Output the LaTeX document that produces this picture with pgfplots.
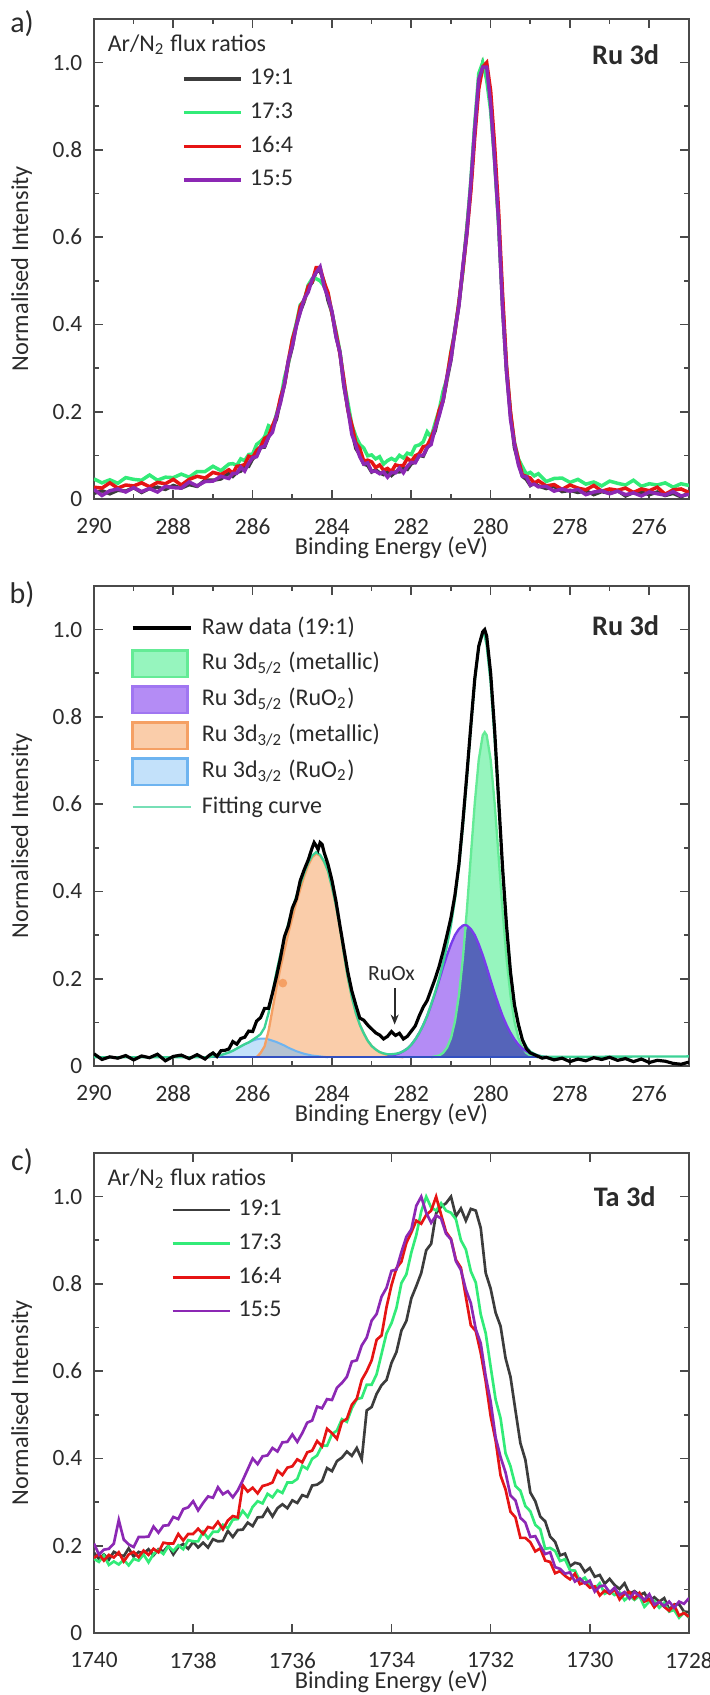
\documentclass[border=0pt]{standalone}
\usepackage{fontspec}
\setmainfont{Carlito}
\usepackage{pgfplots}
\usepackage{pgfplotstable}
\pgfplotsset{compat=1.18}
\usetikzlibrary{arrows.meta}

\definecolor{txt}{HTML}{2B2B2B}
\definecolor{axc}{HTML}{4A4A4A}
\definecolor{cK}{HTML}{3C3C3C}
\definecolor{cG}{HTML}{32EB78}
\definecolor{cR}{HTML}{E61414}
\definecolor{cP}{HTML}{8C28B4}
\definecolor{fitc}{HTML}{3CD296}
\definecolor{gF}{HTML}{96F5BE}
\definecolor{gE}{HTML}{64EB96}
\definecolor{pF}{HTML}{B48CF5}
\definecolor{pE}{HTML}{783CEB}
\definecolor{dF}{HTML}{5564B9}
\definecolor{dE}{HTML}{3C28C8}
\definecolor{oF}{HTML}{FACDAA}
\definecolor{oE}{HTML}{F5A064}
\definecolor{bF}{HTML}{C3E1FA}
\definecolor{bE}{HTML}{6EB4F0}
\definecolor{obF}{HTML}{B4C3D2}
\definecolor{baseE}{HTML}{3250C0}

% panel a: Ru 3d, four flux ratios
\pgfplotstableread{
x k g r p
290.0 .013 .046 .027 .022
289.8 .019 .037 .025 .008
289.6 .012 .044 .037 .019
289.4 .020 .036 .025 .023
289.2 .018 .049 .032 .016
289.0 .026 .045 .030 .026
288.8 .015 .043 .037 .017
288.6 .024 .055 .028 .024
288.4 .027 .043 .038 .016
288.2 .022 .050 .035 .029
288.0 .031 .049 .045 .026
287.8 .025 .057 .032 .025
287.6 .033 .050 .045 .039
287.4 .029 .063 .052 .030
287.2 .043 .063 .048 .040
287.0 .043 .075 .061 .041
286.8 .046 .065 .056 .052
286.6 .059 .080 .067 .047
286.5 .052 .081 .059 .059
286.4 .061 .077 .075 .059
286.3 .064 .092 .076 .073
286.2 .075 .088 .079 .064
286.1 .075 .102 .098 .082
286.0 .092 .103 .095 .095
285.9 .099 .125 .111 .097
285.8 .118 .132 .120 .118
285.7 .119 .142 .139 .121
285.6 .142 .168 .144 .142
285.5 .164 .163 .168 .153
285.4 .183 .194 .189 .190
285.3 .225 .226 .232 .220
285.2 .262 .277 .262 .262
285.1 .312 .312 .317 .318
285.0 .349 .366 .365 .350
284.9 .399 .402 .397 .396
284.8 .430 .445 .441 .428
284.7 .453 .455 .456 .459
284.6 .486 .490 .487 .474
284.5 .496 .505 .498 .503
284.4 .521 .505 .530 .519
284.3 .523 .500 .530 .532
284.2 .498 .488 .497 .487
284.1 .455 .470 .473 .462
284.0 .427 .425 .425 .430
283.9 .374 .385 .381 .372
283.8 .336 .338 .333 .336
283.7 .259 .270 .274 .261
283.6 .207 .221 .204 .207
283.5 .159 .170 .170 .148
283.4 .116 .144 .129 .123
283.3 .102 .125 .116 .097
283.2 .080 .117 .087 .080
283.1 .077 .099 .089 .083
283.0 .062 .101 .085 .063
282.9 .067 .092 .072 .064
282.8 .060 .097 .078 .058
282.7 .056 .080 .066 .062
282.6 .062 .088 .070 .050
282.5 .054 .093 .063 .061
282.4 .062 .088 .078 .060
282.3 .062 .100 .076 .071
282.2 .071 .094 .077 .060
282.1 .068 .105 .093 .075
282.0 .081 .102 .086 .084
281.9 .085 .121 .099 .083
281.8 .100 .124 .104 .100
281.7 .098 .131 .120 .100
281.6 .118 .154 .122 .118
281.5 .136 .142 .141 .125
281.4 .156 .174 .163 .163
281.3 .195 .203 .203 .190
281.2 .225 .247 .226 .225
281.1 .274 .276 .280 .280
281.0 .319 .338 .336 .320
280.9 .389 .384 .382 .386
280.8 .445 .452 .451 .443
280.7 .528 .522 .526 .534
280.6 .621 .617 .607 .609
280.5 .716 .730 .705 .723
280.4 .851 .860 .830 .849
280.3 .953 .975 .940 .962
280.2 .998 1.000 .990 .990
280.1 .975 .960 1.000 .990
280.0 .905 .890 .935 .905
279.9 .782 .775 .810 .777
279.8 .636 .630 .660 .636
279.7 .439 .455 .470 .441
279.6 .292 .300 .305 .292
279.5 .194 .195 .200 .183
279.4 .118 .130 .128 .125
279.3 .083 .092 .090 .078
279.2 .052 .074 .055 .052
279.1 .045 .057 .052 .051
279.0 .031 .061 .048 .032
278.9 .037 .053 .036 .034
278.8 .030 .058 .042 .028
278.6 .024 .040 .030 .029
278.4 .029 .047 .033 .018
278.2 .017 .048 .022 .023
278.0 .020 .038 .032 .018
277.8 .015 .045 .025 .022
277.6 .019 .034 .021 .010
277.4 .010 .039 .031 .016
277.2 .017 .030 .018 .019
277.0 .013 .041 .023 .012
276.8 .019 .036 .020 .018
276.6 .007 .032 .025 .010
276.4 .015 .043 .015 .014
276.2 .016 .029 .023 .007
276.0 .010 .035 .019 .016
275.8 .016 .032 .027 .012
275.6 .008 .037 .011 .009
275.4 .013 .027 .021 .017
275.2 .005 .035 .023 .007
275.0 .014 .031 .015 .011
}\tabA

% panel b: raw data 19:1 and fitted components
\pgfplotstableread{
x y
290.0 .028
289.8 .015
289.6 .021
289.4 .018
289.2 .024
289.0 .014
288.8 .023
288.6 .019
288.4 .027
288.2 .012
288.0 .022
287.8 .025
287.6 .017
287.4 .026
287.2 .016
287.1 .024
287.0 .030
286.9 .022
286.8 .035
286.7 .036
286.6 .039
286.5 .056
286.4 .050
286.3 .063
286.2 .066
286.1 .080
286.0 .079
285.9 .103
285.8 .111
285.7 .132
285.6 .132
285.5 .167
285.4 .205
285.3 .247
285.2 .296
285.1 .321
285.0 .362
284.9 .383
284.8 .425
284.7 .450
284.6 .472
284.5 .500
284.45 .512
284.4 .505
284.35 .496
284.3 .512
284.25 .508
284.2 .490
284.1 .462
284.0 .425
283.9 .378
283.8 .322
283.7 .268
283.6 .215
283.5 .172
283.4 .140
283.3 .110
283.2 .105
283.1 .094
283.0 .085
282.9 .076
282.8 .071
282.7 .062
282.6 .068
282.5 .079
282.4 .070
282.3 .075
282.2 .062
282.1 .068
282.0 .080
281.9 .092
281.8 .115
281.7 .135
281.6 .150
281.5 .175
281.4 .200
281.3 .228
281.2 .262
281.1 .300
281.0 .340
280.9 .392
280.8 .462
280.7 .560
280.6 .668
280.5 .780
280.4 .888
280.3 .962
280.2 .995
280.15 1.000
280.1 .985
280.0 .900
279.9 .770
279.8 .612
279.7 .455
279.6 .322
279.5 .215
279.4 .140
279.3 .095
279.2 .060
279.1 .040
279.0 .030
278.9 .026
278.8 .022
278.7 .018
278.6 .020
278.4 .014
278.2 .018
278.0 .010
277.8 .016
277.6 .012
277.4 .019
277.2 .015
277.0 .020
276.8 .013
276.6 .017
276.4 .010
276.2 .016
276.0 .008
275.8 .013
275.6 .011
275.4 .006
275.2 .004
275.0 .009
}\tRaw

\pgfplotstableread{
x y
290.0 .020
287.2 .020
287.1 .020
287.0 .022
286.9 .023
286.8 .025
286.7 .028
286.6 .031
286.5 .035
286.4 .040
286.3 .045
286.2 .050
286.1 .054
286.0 .060
285.9 .066
285.8 .073
285.7 .088
285.6 .121
285.5 .168
285.4 .215
285.3 .256
285.2 .292
285.1 .327
285.0 .358
284.9 .389
284.8 .416
284.7 .443
284.6 .466
284.5 .482
284.4 .490
284.3 .484
284.2 .469
284.1 .447
284.0 .410
283.9 .368
283.8 .318
283.7 .258
283.6 .203
283.5 .158
283.4 .122
283.3 .095
283.2 .075
283.1 .058
283.0 .046
282.9 .038
282.8 .032
282.7 .029
282.6 .027
282.5 .027
282.4 .028
282.3 .030
282.2 .034
282.1 .040
282.0 .049
281.9 .061
281.8 .076
281.7 .094
281.6 .115
281.5 .141
281.4 .169
281.3 .200
281.2 .236
281.1 .276
281.0 .323
280.9 .382
280.8 .456
280.7 .549
280.6 .659
280.5 .775
280.4 .883
280.3 .961
280.2 .992
280.15 .985
280.1 .964
280.0 .878
279.9 .750
279.8 .601
279.7 .452
279.6 .321
279.5 .218
279.4 .143
279.3 .093
279.2 .062
279.1 .044
279.0 .033
278.9 .028
278.8 .024
278.7 .022
278.6 .021
275.0 .022
}\tFit

\pgfplotstableread{
x y
285.9 .020
285.8 .030
285.7 .045
285.6 .080
285.5 .130
285.4 .180
285.3 .225
285.2 .265
285.1 .305
285.0 .340
284.9 .375
284.8 .405
284.7 .435
284.6 .460
284.5 .478
284.4 .487
284.3 .482
284.2 .468
284.1 .447
284.0 .410
283.9 .368
283.8 .318
283.7 .258
283.6 .203
283.5 .158
283.4 .122
283.3 .095
283.2 .075
283.1 .058
283.0 .046
282.9 .038
282.8 .032
282.7 .028
282.6 .025
282.5 .023
282.4 .022
282.3 .021
282.2 .020
}\tOrange

\pgfplotstableread{
x y
287.1 .020
287.0 .022
286.9 .023
286.8 .025
286.7 .028
286.6 .031
286.5 .035
286.4 .040
286.3 .045
286.2 .050
286.1 .054
286.0 .058
285.9 .061
285.8 .063
285.7 .063
285.6 .061
285.5 .058
285.4 .055
285.3 .051
285.2 .047
285.1 .042
285.0 .038
284.9 .034
284.8 .031
284.7 .028
284.6 .026
284.5 .024
284.4 .023
284.3 .022
284.2 .021
284.1 .020
}\tBlue

\pgfplotstableread{
x y
285.9 .020
285.8 .030
285.7 .045
285.6 .061
285.5 .058
285.4 .055
285.3 .051
285.2 .047
285.1 .042
285.0 .038
284.9 .034
284.8 .031
284.7 .028
284.6 .026
284.5 .024
284.4 .023
284.3 .022
284.2 .021
284.1 .020
}\tOB

\pgfplotstableread{
x y
281.5 .020
281.4 .022
281.3 .024
281.2 .030
281.1 .042
281.0 .064
280.9 .102
280.8 .162
280.7 .247
280.6 .357
280.5 .481
280.4 .603
280.3 .702
280.2 .758
280.15 .765
280.1 .758
280.0 .702
279.9 .603
279.8 .481
279.7 .357
279.6 .247
279.5 .162
279.4 .102
279.3 .064
279.2 .042
279.1 .030
279.0 .024
278.9 .022
278.8 .020
}\tGreen

\pgfplotstableread{
x y
282.6 .022
282.5 .024
282.4 .026
282.3 .029
282.2 .034
282.1 .040
282.0 .049
281.9 .061
281.8 .076
281.7 .094
281.6 .115
281.5 .140
281.4 .167
281.3 .196
281.2 .226
281.1 .254
281.0 .279
280.9 .300
280.8 .314
280.7 .322
280.65 .323
280.6 .322
280.5 .314
280.4 .300
280.3 .279
280.2 .254
280.1 .226
280.0 .196
279.9 .167
279.8 .140
279.7 .115
279.6 .094
279.5 .076
279.4 .061
279.3 .049
279.2 .040
279.1 .034
279.0 .029
278.9 .026
278.8 .024
278.7 .022
278.6 .020
}\tPurple

\pgfplotstableread{
x y
281.5 .020
281.4 .022
281.3 .024
281.2 .030
281.1 .042
281.0 .064
280.9 .102
280.8 .162
280.7 .247
280.65 .290
280.6 .322
280.5 .314
280.4 .300
280.3 .279
280.2 .254
280.1 .226
280.0 .196
279.9 .167
279.8 .140
279.7 .115
279.6 .094
279.5 .076
279.4 .061
279.3 .049
279.2 .040
279.1 .030
279.0 .024
278.9 .022
278.8 .020
}\tGP

% panel c: Ta 3d, four flux ratios
\pgfplotstableread{
x k g r p
1740.0 .184 .170 .172 .205
1739.9 .170 .163 .181 .180
1739.8 .180 .178 .166 .191
1739.7 .168 .156 .179 .193
1739.6 .186 .164 .173 .205
1739.5 .180 .157 .185 .259
1739.4 .176 .168 .164 .214
1739.3 .194 .155 .180 .203
1739.2 .175 .170 .186 .197
1739.1 .186 .166 .174 .220
1739.0 .182 .180 .189 .220
1738.9 .192 .162 .179 .221
1738.8 .178 .181 .193 .244
1738.7 .192 .190 .185 .230
1738.6 .187 .181 .207 .246
1738.5 .200 .199 .205 .247
1738.4 .180 .188 .205 .266
1738.3 .197 .201 .227 .261
1738.2 .204 .192 .212 .284
1738.1 .193 .213 .227 .288
1738.0 .209 .210 .227 .302
1737.9 .196 .210 .239 .281
1737.8 .207 .232 .227 .298
1737.7 .196 .217 .243 .313
1737.6 .215 .232 .240 .310
1737.5 .210 .232 .255 .334
1737.4 .211 .248 .238 .318
1737.3 .234 .240 .258 .325
1737.2 .220 .260 .268 .311
1737.1 .236 .261 .265 .327
1737.0 .237 .280 .339 .350
1736.9 .253 .266 .324 .375
1736.8 .245 .289 .333 .400
1736.7 .265 .302 .320 .387
1736.6 .266 .297 .337 .405
1736.5 .285 .319 .340 .407
1736.4 .267 .311 .345 .424
1736.3 .286 .327 .372 .416
1736.2 .295 .321 .362 .437
1736.1 .286 .345 .379 .438
1736.0 .304 .345 .382 .455
1735.9 .298 .353 .398 .438
1735.8 .316 .383 .391 .458
1735.7 .312 .376 .414 .482
1735.6 .338 .399 .418 .487
1735.5 .340 .407 .440 .519
1735.4 .348 .430 .428 .515
1735.3 .378 .429 .468 .536
1735.2 .371 .456 .458 .534
1735.1 .394 .464 .445 .562
1735.0 .402 .490 .484 .573
1734.9 .416 .484 .491 .587
1734.8 .406 .515 .523 .622
1734.7 .424 .536 .537 .625
1734.6 .398 .539 .580 .659
1734.5 .510 .569 .600 .677
1734.4 .518 .569 .625 .716
1734.3 .548 .593 .672 .731
1734.2 .568 .640 .682 .771
1734.1 .580 .687 .747 .791
1734.0 .619 .710 .797 .830
1733.9 .644 .745 .836 .833
1733.8 .693 .802 .851 .873
1733.7 .715 .822 .894 .908
1733.6 .767 .872 .918 .925
1733.5 .795 .912 .945 .979
1733.4 .825 .966 .938 1.000
1733.3 .877 1.000 .958 .963
1733.2 .892 .975 .968 .940
1733.1 .962 .968 1.000 .957
1733.0 .977 .985 .959 .950
1732.9 .985 .968 .919 .915
1732.8 1.000 .963 .903 .902
1732.7 .955 .948 .855 .852
1732.6 .973 .900 .837 .832
1732.5 .945 .879 .770 .787
1732.4 .972 .829 .705 .756
1732.3 .968 .803 .692 .696
1732.2 .928 .730 .642 .664
1732.1 .825 .687 .577 .588
1732.0 .789 .610 .497 .530
1731.9 .734 .535 .441 .448
1731.8 .703 .492 .361 .403
1731.7 .630 .412 .329 .368
1731.6 .587 .382 .278 .315
1731.5 .510 .337 .265 .304
1731.4 .435 .326 .218 .264
1731.3 .397 .291 .218 .253
1731.2 .322 .279 .208 .220
1731.1 .302 .248 .187 .222
1731.0 .267 .238 .194 .200
1730.9 .256 .193 .166 .181
1730.8 .221 .195 .163 .185
1730.7 .209 .188 .137 .151
1730.6 .178 .165 .142 .147
1730.5 .182 .169 .131 .136
1730.4 .153 .144 .123 .139
1730.3 .161 .143 .136 .118
1730.2 .158 .120 .112 .125
1730.1 .140 .127 .116 .114
1730.0 .149 .110 .104 .120
1729.9 .129 .101 .107 .095
1729.8 .133 .114 .086 .107
1729.7 .113 .090 .097 .109
1729.6 .124 .096 .090 .093
1729.5 .110 .087 .100 .104
1729.4 .101 .093 .077 .087
1729.3 .114 .075 .090 .094
1729.2 .090 .085 .094 .079
1729.1 .096 .076 .079 .094
1729.0 .087 .085 .092 .085
1728.9 .092 .060 .072 .076
1728.8 .073 .072 .077 .089
1728.7 .082 .074 .059 .065
1728.6 .072 .058 .072 .071
1728.5 .080 .069 .060 .062
1728.4 .054 .049 .051 .072
1728.3 .065 .053 .064 .058
1728.2 .066 .035 .040 .072
1728.1 .049 .047 .046 .067
1728.0 .048 .035 .037 .080
}\tabC

\pgfplotsset{
  xps/.style={
    scale only axis, width=178.5pt, height=144pt,
    anchor=north west, x dir=reverse, ymin=0, ymax=1.1,
    ytick={0,0.2,0.4,0.6,0.8,1.0},
    yticklabels={0,0.2,0.4,0.6,0.8,1.0},
    minor x tick num=1, minor y tick num=1,
    tick align=inside,
    major tick length=2.8pt, minor tick length=1.4pt,
    tick style={axc, line width=0.5pt},
    axis line style={axc, line width=0.6pt},
    tick label style={font=\fontsize{7}{8}\selectfont, text=txt},
    xticklabel style={yshift=-2.3pt},
    label style={font=\fontsize{7.3}{8.7}\selectfont, text=txt},
    xlabel={Binding Energy (eV)},
    ylabel={Normalised Intensity},
    xlabel style={at={(axis description cs:0.5,0)}, anchor=center, yshift=-14.6pt},
    ylabel style={at={(axis description cs:-0.1216,0.48)}, anchor=center},
    legend cell align=left,
  },
  ratioleg/.style={
    legend style={draw=none, fill=none, inner sep=0pt, outer sep=0pt,
      anchor=north west, font=\fontsize{7.2}{8.6}\selectfont, text=txt,
      row sep=1.6pt,
      /tikz/every odd column/.append style={column sep=1.3pt},
      nodes={inner sep=1pt, text height=5pt, text depth=1.5pt}},
    legend image code/.code={\draw[##1] (0pt,0pt) -- (17.1pt,0pt);},
  },
  boxleg/.style={legend image code/.code={\draw[##1] (0pt,-4pt) rectangle (16.5pt,4pt);}},
}

\begin{document}
\begin{tikzpicture}
\useasboundingbox (0,0) rectangle (213pt,-508.5pt);

\node[font=\fontsize{9}{10}\selectfont, text=txt] at (6.6pt,-7.2pt) {a)};
\node[font=\fontsize{9}{10}\selectfont, text=txt] at (6.6pt,-178.5pt) {b)};
\node[font=\fontsize{9}{10}\selectfont, text=txt] at (6.6pt,-348.6pt) {c)};

% ---------- a ----------
\begin{axis}[xps, ratioleg, at={(28.2pt,-5.7pt)},
  xmin=275, xmax=290, xtick={276,278,...,290},
  xticklabels={276,278,280,282,284,286,288,290},
  legend style={at={(axis description cs:0.148,0.9045)}}]
\addplot[cK, line width=1.05pt] table[x=x,y=k]{\tabA};
\addlegendentry{19:1}
\addplot[cG, line width=1.05pt] table[x=x,y=g]{\tabA};
\addlegendentry{17:3}
\addplot[cR, line width=1.05pt] table[x=x,y=r]{\tabA};
\addlegendentry{16:4}
\addplot[cP, line width=1.05pt] table[x=x,y=p]{\tabA};
\addlegendentry{15:5}
\node[anchor=west, inner sep=0pt, font=\fontsize{7.2}{8.6}\selectfont, text=txt]
  at (axis description cs:0.022,0.947) {Ar/N\textsubscript{2} flux ratios};
\node[anchor=east, inner sep=0pt, font=\bfseries\fontsize{8.5}{10}\selectfont, text=txt]
  at (axis description cs:0.951,0.926) {Ru 3d};
\end{axis}

% ---------- b ----------
\begin{axis}[xps, at={(28.2pt,-175.8pt)},
  xmin=275, xmax=290, xtick={276,278,...,290},
  xticklabels={276,278,280,282,284,286,288,290},
  legend style={draw=none, fill=none, inner sep=0pt, outer sep=0pt,
    at={(axis description cs:0.062,0.9415)}, anchor=north west,
    font=\fontsize{7.2}{8.6}\selectfont, text=txt, row sep=2.0pt,
    /tikz/every odd column/.append style={column sep=1.8pt},
    nodes={inner sep=1pt, text height=5pt, text depth=1.5pt}},
  legend image code/.code={\draw[#1] (0pt,0pt) -- (17.4pt,0pt);}]
\addplot[fill=bF, draw=none, forget plot] table[x=x,y=y]{\tBlue} -- cycle;
\addplot[fill=oF, draw=none, forget plot] table[x=x,y=y]{\tOrange} -- cycle;
\addplot[fill=obF, draw=none, forget plot] table[x=x,y=y]{\tOB} -- cycle;
\addplot[bE, line width=0.6pt, forget plot] table[x=x,y=y]{\tBlue};
\addplot[oE, line width=0.7pt, forget plot] table[x=x,y=y]{\tOrange};
\addplot[fill=pF, draw=none, forget plot] table[x=x,y=y]{\tPurple} -- cycle;
\addplot[fill=gF, draw=none, forget plot] table[x=x,y=y]{\tGreen} -- cycle;
\addplot[fill=dF, draw=none, forget plot] table[x=x,y=y]{\tGP} -- cycle;
\addplot[gE, line width=0.7pt, forget plot] table[x=x,y=y]{\tGreen};
\addplot[pE, line width=0.7pt, forget plot] table[x=x,y=y]{\tPurple};
\addplot[baseE, line width=0.6pt, forget plot] coordinates {(287.1,0.02) (278.6,0.02)};
\addplot[only marks, mark=*, mark size=1.1pt, color=oE, forget plot] coordinates {(285.24,0.19)};
\addplot[fitc, line width=0.7pt, forget plot] table[x=x,y=y]{\tFit};
\addplot[black, line width=0.95pt, forget plot] table[x=x,y=y]{\tRaw};
\addlegendimage{black, line width=1.1pt}
\addlegendentry{Raw data (19:1)}
\addlegendimage{boxleg, fill=gF, draw=gE, line width=0.8pt}
\addlegendentry{Ru 3d\textsubscript{5/2} (metallic)}
\addlegendimage{boxleg, fill=pF, draw=pE!70!white, line width=0.8pt}
\addlegendentry{Ru 3d\textsubscript{5/2} (RuO\textsubscript{2})}
\addlegendimage{boxleg, fill=oF, draw=oE, line width=0.8pt}
\addlegendentry{Ru 3d\textsubscript{3/2} (metallic)}
\addlegendimage{boxleg, fill=bF, draw=bE, line width=0.8pt}
\addlegendentry{Ru 3d\textsubscript{3/2} (RuO\textsubscript{2})}
\addlegendimage{fitc!70!white, line width=0.6pt}
\addlegendentry{Fitting curve}
\node[font=\fontsize{6.5}{7.5}\selectfont, text=txt] at (axis cs:282.5,0.212) {RuOx};
\draw[-{Stealth[length=3pt,width=2.4pt]}, line width=0.5pt, txt]
  (axis cs:282.42,0.178) -- (axis cs:282.42,0.095);
\node[anchor=east, inner sep=0pt, font=\bfseries\fontsize{8.5}{10}\selectfont, text=txt]
  at (axis description cs:0.951,0.917) {Ru 3d};
\end{axis}

% ---------- c ----------
\begin{axis}[xps, ratioleg, at={(28.2pt,-345.9pt)},
  xmin=1728, xmax=1740, xtick={1728,1730,...,1740},
  xticklabels={1728,1730,1732,1734,1736,1738,1740},
  legend style={at={(axis description cs:0.130,0.9105)}}]
\addplot[cK, line width=0.8pt] table[x=x,y=k]{\tabC};
\addlegendentry{19:1}
\addplot[cG, line width=0.8pt] table[x=x,y=g]{\tabC};
\addlegendentry{17:3}
\addplot[cR, line width=0.8pt] table[x=x,y=r]{\tabC};
\addlegendentry{16:4}
\addplot[cP, line width=0.8pt] table[x=x,y=p]{\tabC};
\addlegendentry{15:5}
\node[anchor=west, inner sep=0pt, font=\fontsize{7.2}{8.6}\selectfont, text=txt]
  at (axis description cs:0.022,0.946) {Ar/N\textsubscript{2} flux ratios};
\node[anchor=east, inner sep=0pt, font=\bfseries\fontsize{8.5}{10}\selectfont, text=txt]
  at (axis description cs:0.945,0.910) {Ta 3d};
\end{axis}
\end{tikzpicture}
\end{document}
